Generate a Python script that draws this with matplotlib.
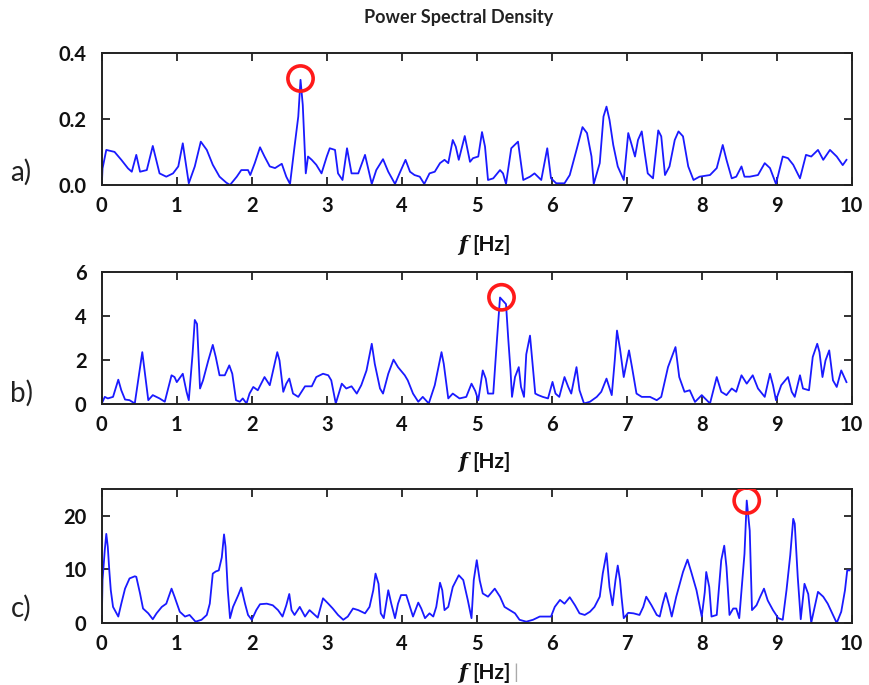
import numpy as np
import matplotlib; matplotlib.use('Agg')
import matplotlib.pyplot as plt

plt.rcParams.update({"font.family": ["Lato", "DejaVu Sans"], "axes.unicode_minus": False})

BLUE = "#1a1aff"; RED = "#ff1a1a"; INK = "#222222"

# ---- panel a) ----
fa = [0.00,0.01,0.06,0.17,0.26,0.35,0.40,0.46,0.51,0.60,0.68,0.77,0.86,0.95,1.02,1.08,1.16,1.24,1.32,1.40,
      1.48,1.57,1.66,1.71,1.80,1.86,1.95,1.98,2.04,2.11,2.17,2.24,2.31,2.40,2.46,2.51,2.57,2.62,2.65,2.68,
      2.72,2.75,2.80,2.86,2.93,3.00,3.04,3.11,3.15,3.21,3.27,3.33,3.42,3.51,3.60,3.66,3.75,3.82,3.91,3.97,
      4.05,4.11,4.17,4.24,4.30,4.37,4.44,4.51,4.57,4.62,4.68,4.72,4.76,4.84,4.91,4.95,5.02,5.07,5.11,5.15,
      5.22,5.31,5.35,5.39,5.46,5.55,5.62,5.71,5.77,5.86,5.94,5.99,6.06,6.17,6.24,6.33,6.41,6.47,6.53,6.56,
      6.64,6.69,6.73,6.77,6.82,6.88,6.96,7.02,7.06,7.11,7.15,7.20,7.24,7.28,7.35,7.42,7.46,7.51,7.57,7.64,
      7.69,7.75,7.82,7.89,7.97,8.11,8.20,8.28,8.33,8.40,8.46,8.53,8.57,8.64,8.75,8.84,8.91,8.99,9.08,9.15,
      9.22,9.31,9.39,9.46,9.55,9.62,9.71,9.80,9.88,9.93]
pa = [0.000,0.050,0.106,0.100,0.076,0.050,0.040,0.091,0.040,0.045,0.118,0.035,0.025,0.035,0.056,0.126,0.005,0.056,0.131,0.106,
      0.061,0.025,0.007,0.000,0.025,0.045,0.045,0.030,0.066,0.114,0.086,0.056,0.051,0.064,0.025,0.003,0.116,0.207,0.318,0.242,
      0.035,0.086,0.076,0.061,0.035,0.086,0.111,0.106,0.035,0.015,0.111,0.035,0.035,0.091,0.003,0.045,0.078,0.040,0.003,0.035,
      0.076,0.040,0.030,0.025,0.003,0.035,0.040,0.066,0.076,0.066,0.136,0.116,0.076,0.148,0.070,0.081,0.086,0.160,0.116,0.015,
      0.020,0.045,0.035,0.003,0.111,0.131,0.015,0.025,0.035,0.015,0.111,0.020,0.005,0.005,0.030,0.106,0.175,0.157,0.086,0.003,
      0.066,0.207,0.237,0.197,0.121,0.056,0.015,0.157,0.126,0.086,0.136,0.162,0.096,0.035,0.020,0.165,0.147,0.030,0.056,0.136,
      0.162,0.147,0.056,0.015,0.025,0.030,0.051,0.121,0.076,0.020,0.025,0.056,0.025,0.025,0.030,0.066,0.051,0.003,0.086,0.081,
      0.061,0.020,0.091,0.086,0.106,0.076,0.106,0.086,0.060,0.076]

# ---- panel b) ----
fb = [0.00,0.04,0.08,0.15,0.22,0.26,0.31,0.37,0.44,0.51,0.54,0.57,0.62,0.68,0.77,0.84,0.93,0.97,1.00,1.08,
      1.13,1.16,1.21,1.24,1.27,1.31,1.35,1.42,1.48,1.52,1.57,1.64,1.70,1.74,1.79,1.84,1.88,1.93,1.97,2.02,
      2.08,2.17,2.24,2.34,2.37,2.42,2.46,2.50,2.55,2.62,2.71,2.80,2.86,2.95,3.02,3.06,3.12,3.20,3.26,3.33,
      3.40,3.46,3.53,3.60,3.64,3.71,3.75,3.82,3.89,3.95,4.04,4.08,4.15,4.22,4.28,4.36,4.44,4.53,4.56,4.62,
      4.68,4.77,4.86,4.93,4.98,5.02,5.08,5.12,5.15,5.22,5.27,5.31,5.35,5.39,5.42,5.45,5.47,5.51,5.56,5.59,
      5.63,5.66,5.71,5.74,5.78,5.82,5.88,5.95,6.01,6.05,6.10,6.17,6.22,6.26,6.33,6.37,6.43,6.51,6.60,6.66,
      6.73,6.80,6.84,6.87,6.91,6.96,7.03,7.07,7.13,7.20,7.31,7.40,7.46,7.55,7.65,7.70,7.77,7.84,7.91,8.00,
      8.11,8.20,8.26,8.33,8.40,8.46,8.53,8.60,8.68,8.75,8.84,8.91,8.95,8.99,9.06,9.15,9.20,9.24,9.31,9.35,
      9.43,9.48,9.54,9.57,9.61,9.65,9.70,9.75,9.80,9.86,9.93]
pb = [0.03,0.33,0.26,0.33,1.11,0.63,0.21,0.18,0.03,1.68,2.36,1.53,0.18,0.41,0.26,0.11,1.31,1.23,1.00,1.38,
      0.56,0.18,2.26,3.82,3.64,0.71,1.08,1.98,2.69,2.14,1.31,1.31,1.76,1.38,0.18,0.11,0.26,0.03,0.48,0.78,
      0.63,1.23,0.86,2.36,1.98,0.56,0.93,1.16,0.48,0.33,0.81,0.81,1.23,1.38,1.31,1.08,0.03,0.93,0.71,0.81,
      0.48,0.86,1.53,2.74,1.83,0.71,0.48,1.38,2.02,1.68,1.31,1.08,0.48,0.11,0.33,0.03,0.86,2.36,1.83,0.26,
      0.48,0.26,0.33,0.93,0.60,0.18,1.53,1.16,0.48,0.48,2.96,4.84,4.69,4.54,2.96,1.53,0.33,1.23,1.68,0.78,
      0.33,2.26,3.11,1.98,0.48,0.41,0.33,0.26,1.01,0.48,0.33,1.23,0.78,0.48,1.68,0.63,0.03,0.11,0.33,0.56,
      1.16,0.41,1.98,3.34,2.51,1.23,2.44,1.68,0.48,0.33,0.33,0.18,0.33,1.68,2.59,1.23,0.56,0.63,0.10,0.41,
      0.03,1.23,0.56,0.41,0.71,0.56,1.31,0.93,1.31,0.71,0.33,1.38,0.86,0.18,0.86,1.23,0.56,0.33,1.31,0.71,
      0.63,2.14,2.74,2.36,1.23,1.98,2.44,1.08,0.78,1.53,1.00]

# ---- panel c) ----
fc = [0.00,0.01,0.04,0.06,0.08,0.10,0.12,0.15,0.22,0.26,0.31,0.37,0.44,0.46,0.51,0.55,0.62,0.68,0.73,0.80,
      0.86,0.93,0.97,1.04,1.11,1.17,1.25,1.33,1.40,1.44,1.48,1.52,1.56,1.60,1.63,1.65,1.68,1.71,1.75,1.82,
      1.86,1.91,1.95,2.00,2.06,2.11,2.20,2.28,2.35,2.41,2.46,2.50,2.53,2.57,2.64,2.71,2.77,2.84,2.88,2.95,
      3.02,3.08,3.15,3.22,3.28,3.35,3.42,3.51,3.57,3.62,3.65,3.69,3.72,3.76,3.82,3.86,3.91,3.95,3.99,4.06,
      4.11,4.15,4.22,4.26,4.31,4.37,4.42,4.46,4.51,4.54,4.57,4.62,4.68,4.76,4.82,4.88,4.93,4.96,5.00,5.04,
      5.08,5.15,5.24,5.31,5.37,5.44,5.51,5.57,5.66,5.75,5.84,5.99,6.04,6.11,6.17,6.24,6.31,6.37,6.44,6.51,
      6.57,6.64,6.68,6.73,6.77,6.81,6.85,6.88,6.91,6.93,6.96,7.02,7.09,7.17,7.22,7.26,7.33,7.40,7.44,7.48,
      7.52,7.57,7.60,7.66,7.75,7.81,7.86,7.93,8.00,8.04,8.06,8.10,8.13,8.20,8.26,8.30,8.33,8.37,8.42,8.46,
      8.50,8.57,8.60,8.64,8.67,8.73,8.78,8.83,8.88,8.95,9.02,9.08,9.13,9.18,9.22,9.24,9.28,9.32,9.37,9.42,
      9.46,9.55,9.62,9.68,9.75,9.80,9.86,9.91,9.94,9.97]
pc = [0.6,8.0,13.6,16.6,14.2,9.8,6.1,3.0,1.2,3.6,6.4,8.3,8.7,8.6,5.5,2.7,1.8,0.7,1.8,3.0,
      3.6,6.4,4.9,2.1,1.2,1.5,0.25,0.6,1.5,3.6,9.2,9.6,9.8,12.2,16.5,14.2,6.1,0.9,3.0,5.2,
      6.6,3.6,1.5,0.6,2.4,3.5,3.6,3.3,2.4,1.2,3.3,5.4,2.4,1.5,3.0,1.2,2.4,1.5,1.0,4.6,
      3.6,2.7,1.5,0.6,1.2,2.7,2.4,1.8,3.0,6.1,9.2,7.3,1.8,0.9,6.1,3.6,0.9,3.6,5.2,5.2,
      3.0,1.2,3.8,2.7,0.9,1.8,1.2,3.0,7.5,6.1,2.4,3.0,6.7,8.9,8.0,4.3,0.9,8.0,11.7,7.9,
      5.5,4.9,6.4,4.9,3.0,2.4,1.8,0.6,0.25,0.6,1.2,1.2,3.0,4.3,3.6,4.8,3.3,1.8,1.5,2.1,
      3.0,4.9,9.2,13.0,6.7,3.3,8.0,10.7,8.0,4.9,0.9,1.9,1.8,1.5,3.0,4.9,3.3,1.5,1.2,3.6,
      5.6,3.0,1.2,4.9,9.5,11.8,9.5,6.1,1.2,5.7,9.5,6.7,1.2,1.5,11.7,14.4,10.4,1.5,2.7,2.7,
      0.9,12.9,22.8,17.2,2.4,3.3,4.9,6.4,4.2,2.4,0.9,0.6,6.1,12.6,19.4,18.5,8.6,0.7,7.3,5.4,
      0.06,5.8,4.9,3.6,1.5,0.0,2.1,6.1,9.8,9.8]

# highlighted peaks (red circles)
peak_f = [2.65, 5.33, 8.60]
peak_p = [0.322, 4.85, 22.8]

panels = [("a)", fa, pa, (0, 0.4), [0.0, 0.2, 0.4], ["0.0", "0.2", "0.4"]),
          ("b)", fb, pb, (0, 6), [0, 2, 4, 6], ["0", "2", "4", "6"]),
          ("c)", fc, pc, (0, 25), [0, 10, 20], ["0", "10", "20"])]
boxes = [(0.117, 0.730, 0.862, 0.193), (0.117, 0.410, 0.862, 0.193), (0.117, 0.0905, 0.862, 0.196)]
xlab_y = [245, 462, 673]     # pixel rows of the "f [Hz]" labels
plab_y = [172, 393, 608]     # pixel rows of the panel letters

W, H = 870, 685
fig = plt.figure(figsize=(8.7, 6.85), dpi=100)
fig.text(0.527, 1 - 17 / H, "Power Spectral Density", ha="center", va="center", fontsize=13, weight="bold", color=INK)

for i, ((lab, f, p, ylim, yt, ytl), box) in enumerate(zip(panels, boxes)):
    ax = fig.add_axes(box)
    ax.plot(f, p, color=BLUE, lw=1.3)
    ax.scatter([peak_f[i]], [peak_p[i]], s=330, facecolors="none", edgecolors=RED, linewidths=2.6, zorder=5)
    ax.set_xlim(0, 10); ax.set_ylim(*ylim)
    ax.set_xticks(range(0, 11)); ax.set_xticklabels([str(t) for t in range(11)])
    ax.set_yticks(yt); ax.set_yticklabels(ytl)
    ax.tick_params(direction="in", length=6, width=1.3, color=INK, top=True, right=True,
                   labelsize=14.5, labelcolor="#111111")
    ax.tick_params(axis="y", pad=11)
    ax.tick_params(axis="x", pad=8)
    for t in ax.get_xticklabels() + ax.get_yticklabels():
        t.set_fontweight("bold")
    for s in ax.spines.values():
        s.set_color(INK); s.set_linewidth(1.4)
    # x label with italic f
    x0 = box[0] + box[2] / 2
    y0 = 1 - xlab_y[i] / H
    fig.text(x0 - 0.011, y0, "f", ha="right", va="center", fontsize=15, weight="bold", style="italic",
             family=["DejaVu Serif"], color="#111111")
    fig.text(x0 - 0.005, y0, "[Hz]", ha="left", va="center", fontsize=15, weight="bold", color="#111111")
    if lab == "c)":
        fig.text(x0 + 0.042, y0, "|", ha="left", va="center", fontsize=14, color="#aaaaaa")
    fig.text(0.012, 1 - plab_y[i] / H, lab, ha="left", va="center", fontsize=20, color="#222222")

fig.savefig("out.png", dpi=100, facecolor="white")
